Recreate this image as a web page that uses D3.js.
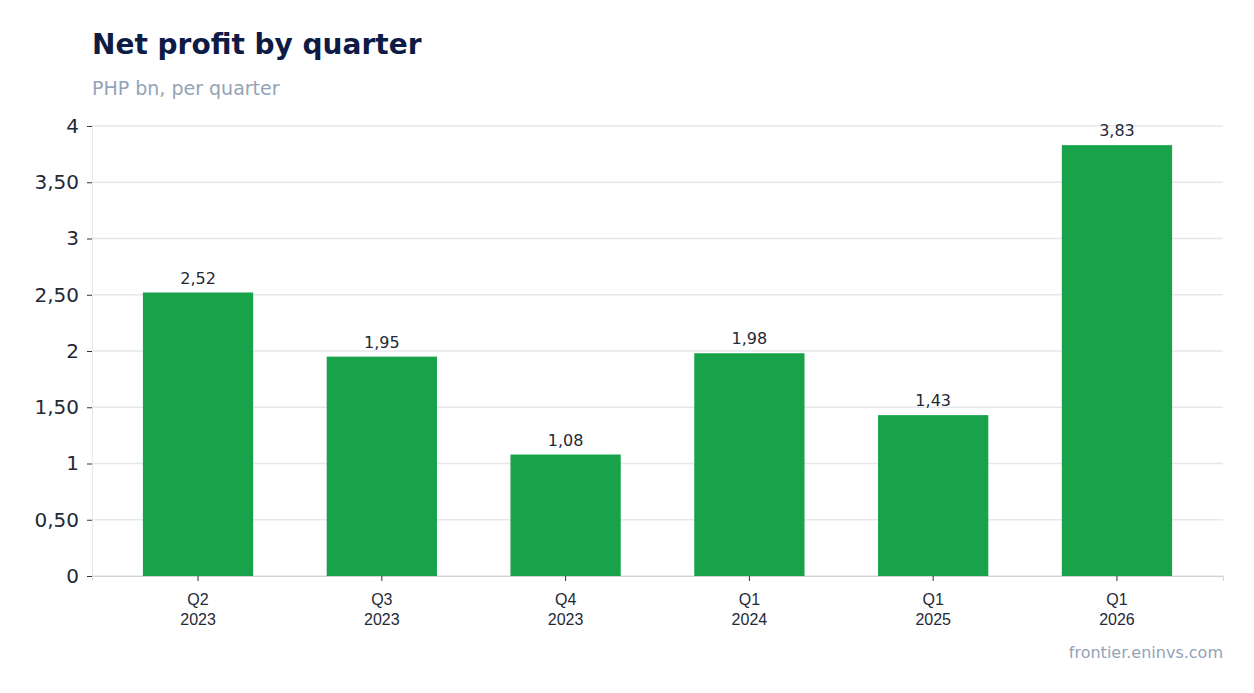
<!DOCTYPE html>
<html><head><meta charset="utf-8">
<script src="https://cdn.jsdelivr.net/npm/d3@7"></script>
<style>body{margin:0;background:#fff;font-family:"DejaVu Sans",sans-serif}</style>
</head><body><svg id="c" width="1254" height="693"></svg>
<script>
const quarters=["Q2","Q3","Q4","Q1","Q1","Q1"];
const years=["2023","2023","2023","2024","2025","2026"];
const profit=[2.52,1.95,1.08,1.98,1.43,3.83];
const yTicks=[0,0.5,1,1.5,2,2.5,3,3.5,4];
const fmt=v=>Number.isInteger(v)?String(v):v.toFixed(2).replace(".",",");
const svg=d3.select("#c");
const L=92,R=1223,T=126,B=576;
const idx=profit.map((d,i)=>i);
const x=d3.scaleBand().domain(idx).range([L,R]).paddingInner(0.4).paddingOuter(0.277);
const y=d3.scaleLinear().domain([0,4]).range([B,T]);
svg.append("text").attr("x",92).attr("y",54).attr("font-size",28).attr("font-weight","bold").attr("fill","#0d1b45").text("Net profit by quarter");
svg.append("text").attr("x",92).attr("y",95).attr("font-size",19).attr("fill","#94a3b8").text("PHP bn, per quarter");
svg.append("g").selectAll("line").data(yTicks).join("line").attr("x1",L).attr("x2",R).attr("y1",d=>y(d)).attr("y2",d=>y(d)).attr("stroke","#e5e7eb").attr("stroke-width",1.5);
const ya=svg.append("g").attr("transform",`translate(${L},0)`).call(d3.axisLeft(y).tickValues(yTicks).tickFormat(fmt).tickSize(5).tickPadding(8));
ya.select(".domain").attr("stroke","#e5e7eb");
ya.selectAll(".tick line").attr("stroke","#333");
ya.selectAll("text").attr("font-size",20).attr("fill","#1f2937").attr("font-family","DejaVu Sans");
svg.append("g").selectAll("rect").data(profit).join("rect").attr("x",(d,i)=>x(i)).attr("width",x.bandwidth()).attr("y",d=>y(d)).attr("height",d=>B-y(d)).attr("fill","#18a34a");
svg.append("g").selectAll("text").data(profit).join("text").attr("x",(d,i)=>x(i)+x.bandwidth()/2).attr("y",d=>y(d)-9).attr("text-anchor","middle").attr("font-size",16).attr("fill","#1f2937").text(d=>fmt(d));
const xa=svg.append("g").attr("transform",`translate(0,${B})`).call(d3.axisBottom(x).tickSize(5).tickFormat(""));
xa.select(".domain").attr("stroke","#d1d5db");
xa.selectAll(".tick line").attr("stroke","#333");
xa.selectAll(".tick").each(function(d){
  const g=d3.select(this);
  g.append("text").attr("y",29).attr("text-anchor","middle").attr("font-size",16).attr("fill","#1f2937").text(quarters[d]);
  g.append("text").attr("y",49).attr("text-anchor","middle").attr("font-size",16).attr("fill","#1f2937").text(years[d]);
});
svg.append("text").attr("x",1223).attr("y",658).attr("text-anchor","end").attr("font-size",16).attr("fill","#94a3b8").text("frontier.eninvs.com");
</script></body></html>
